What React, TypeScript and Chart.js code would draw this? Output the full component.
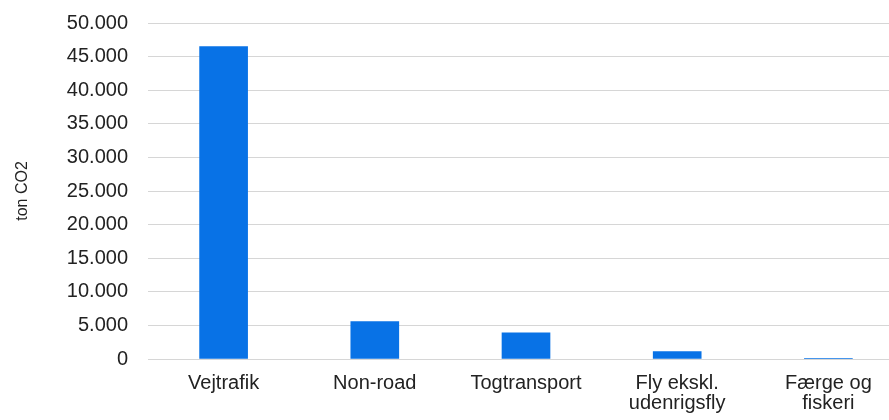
import React, { useEffect, useRef } from "react";
import { Chart, registerables } from "chart.js";

Chart.register(...registerables);

const categories: (string | string[])[] = [
  "Vejtrafik",
  "Non-road",
  "Togtransport",
  ["Fly ekskl.", "udenrigsfly"],
  ["Færge og", "fiskeri"],
];
const emissions = [46500, 5550, 3900, 1090, 100];
const yMax = 50000;
const yStep = 5000;
const yTitle = "ton CO2";

const fmt = (v: number) =>
  String(Math.round(v)).replace(/\B(?=(\d{3})+(?!\d))/g, ".");

export default function App() {
  const ref = useRef<HTMLCanvasElement | null>(null);
  useEffect(() => {
    if (!ref.current) return;
    const chart = new Chart(ref.current, {
      type: "bar",
      data: {
        labels: categories,
        datasets: [
          {
            data: emissions,
            backgroundColor: "#0872e6",
            barThickness: 48,
          },
        ],
      },
      options: {
        animation: false,
        responsive: false,
        devicePixelRatio: 1,
        layout: { padding: { top: 23, right: 0, left: 0, bottom: 0 } },
        plugins: { legend: { display: false }, tooltip: { enabled: false } },
        scales: {
          x: {
            grid: { display: false, drawTicks: false },
            border: { display: false },
            ticks: {
              color: "#222",
              padding: 14,
              maxRotation: 0,
              autoSkip: false,
              font: { family: "'Liberation Sans', Arial, sans-serif", size: 20, lineHeight: 1.0 },
            },
            afterFit: (s: any) => {
              s.height = 61;
              s.paddingLeft = 0;
              s.paddingRight = 0;
            },
          },
          y: {
            min: 0,
            max: yMax,
            ticks: {
              stepSize: yStep,
              color: "#222",
              padding: 20,
              font: { family: "'Liberation Sans', Arial, sans-serif", size: 20 },
              callback: (v: any) => fmt(Number(v)),
            },
            grid: { color: "#d6d6d6", drawTicks: false, lineWidth: 1 },
            border: { display: false },
            title: {
              display: true,
              text: yTitle,
              color: "#222",
              padding: { top: 13.4, bottom: 0 },
              font: { family: "'Liberation Sans', Arial, sans-serif", size: 16 },
            },
            afterFit: (s: any) => {
              s.width = 148;
              s.paddingTop = 0;
              s.paddingBottom = 0;
            },
          },
        },
      },
    });
    return () => chart.destroy();
  }, []);
  return (
    <div
      style={{
        position: "absolute",
        left: 0,
        top: 0,
        width: 889,
        height: 420,
        overflow: "hidden",
        background: "#fff",
      }}
    >
      <canvas ref={ref} width={904} height={420} style={{ width: 904, height: 420, display: "block" }} />
    </div>
  );
}
